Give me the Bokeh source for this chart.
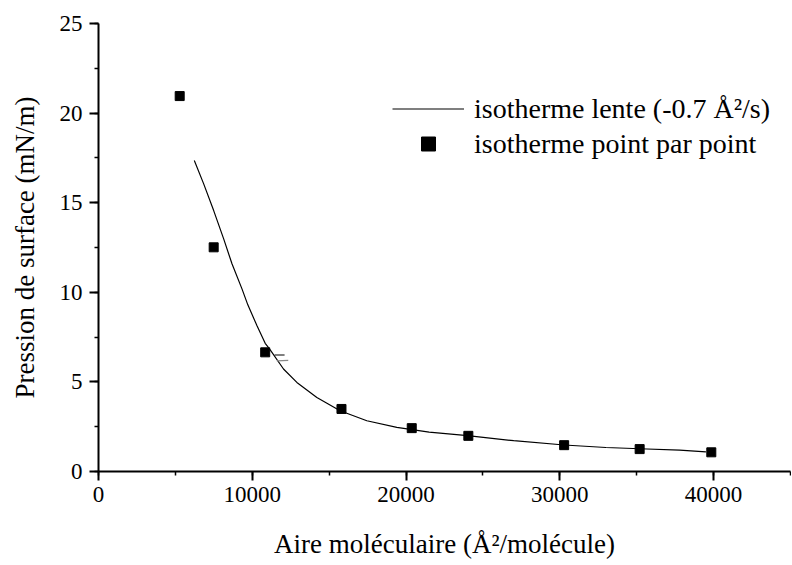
from bokeh.plotting import figure
from bokeh.models import SingleIntervalTicker, Legend, LegendItem
from bokeh.embed import file_html
from bokeh.resources import INLINE

# --- data ---
curve_area = [6230, 6840, 7490, 8140, 8680, 9330, 9710, 10300, 10840, 11120,
              12030, 12900, 14200, 15710, 17450, 19400, 21500, 24000, 27000,
              30280, 33000, 35190, 37790, 39500]
curve_pressure = [17.35, 16.05, 14.56, 12.98, 11.59, 10.19, 9.30, 8.15, 7.15, 6.84,
                  5.72, 4.97, 4.13, 3.39, 2.83, 2.46, 2.20, 2.00, 1.72,
                  1.48, 1.34, 1.27, 1.19, 1.10]

noise_area = [[11450, 12100], [11600, 12340]]
noise_pressure = [[6.50, 6.50], [6.17, 6.20]]

point_area = [5280, 7490, 10840, 15800, 20370, 24050, 30280, 35190, 39850]
point_pressure = [20.95, 12.51, 6.65, 3.49, 2.42, 1.99, 1.47, 1.25, 1.07]

x_label = "Aire moléculaire (Å²/molécule)"
y_label = "Pression de surface (mN/m)"
line_label = "isotherme lente (-0.7 Å²/s)"
point_label = "isotherme point par point"

FONT = "Liberation Serif"

p = figure(width=791, height=565, x_range=(0, 45000), y_range=(0, 25),
           output_backend="svg", toolbar_location=None,
           min_border_left=98, min_border_right=1, min_border_top=23,
           min_border_bottom=94)
p.grid.visible = False
p.outline_line_color = None
p.background_fill_color = "white"
p.border_fill_color = "white"

curve = p.line(curve_area, curve_pressure, line_color="black", line_width=1.2)
p.multi_line(noise_area, noise_pressure, line_color=["black", "#888888"], line_width=1.2)
pts = p.scatter(point_area, point_pressure, marker="square", size=9,
                fill_color="black", line_color="black")

for ax in (p.xaxis[0], p.yaxis[0]):
    ax.axis_line_width = 2
    ax.axis_line_color = "black"
    ax.major_tick_line_width = 2
    ax.minor_tick_line_width = 1.5
    ax.major_tick_line_color = "black"
    ax.minor_tick_line_color = "black"
    ax.major_tick_out = 9
    ax.major_tick_in = 0
    ax.minor_tick_out = 4
    ax.minor_tick_in = 0
    ax.major_label_text_font = FONT
    ax.major_label_text_font_size = "23px"
    ax.major_label_text_color = "black"
    ax.axis_label_text_font = FONT
    ax.axis_label_text_font_size = "27px"
    ax.axis_label_text_font_style = "normal"
    ax.axis_label_text_color = "black"

p.xaxis.ticker = SingleIntervalTicker(interval=10000, num_minor_ticks=2)
p.yaxis.ticker = SingleIntervalTicker(interval=5, num_minor_ticks=2)
p.xaxis.axis_label = x_label
p.yaxis.axis_label = y_label
p.xaxis.major_label_standoff = 6
p.yaxis.major_label_standoff = 7
p.xaxis.axis_label_standoff = 24
p.yaxis.axis_label_standoff = 17
p.yaxis.major_label_orientation = "horizontal"

legend = Legend(items=[LegendItem(label=line_label, renderers=[curve]),
                       LegendItem(label=point_label, renderers=[pts])],
                location=(294, 310))
legend.background_fill_alpha = 0
legend.border_line_color = None
legend.padding = 0
legend.margin = 0
legend.spacing = 0
legend.glyph_width = 72
legend.glyph_height = 35
legend.label_height = 35
legend.label_standoff = 10
legend.label_text_font = FONT
legend.label_text_font_size = "28px"
legend.label_text_color = "black"
p.add_layout(legend, "center")

open("out.html", "w").write(file_html(p, INLINE))
